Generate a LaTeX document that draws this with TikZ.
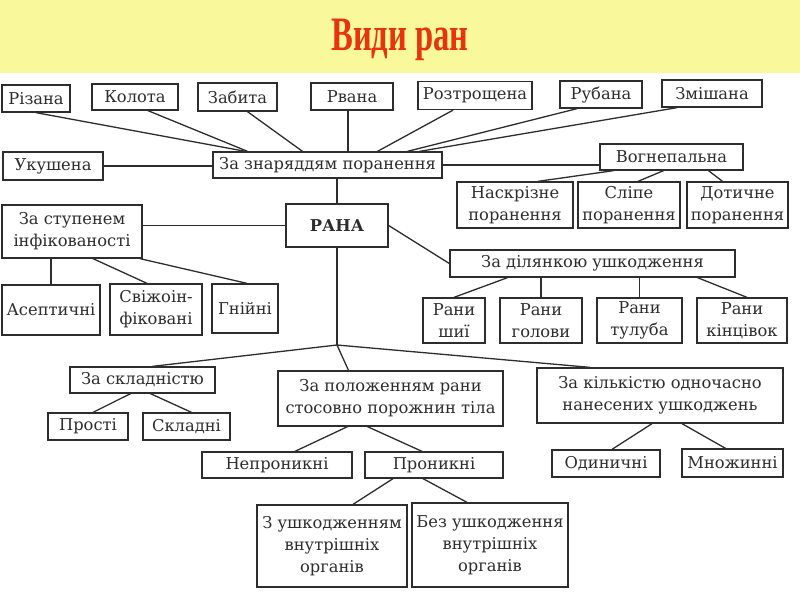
\documentclass[tikz,border=0pt]{standalone}
\usepackage{fontspec}
\setmainfont{DejaVu Serif}
\newfontfamily\headfont{Liberation Serif}
\usetikzlibrary{calc, positioning}
\definecolor{titlebar}{RGB}{249,249,155}
\definecolor{titlered}{RGB}{232,52,12}
\definecolor{inkgray}{RGB}{45,45,45}

\begin{document}
\begin{tikzpicture}[x=1pt, y=-1pt,
  box/.style 2 args={draw=inkgray, line width=1.3pt, inner sep=0pt, align=center,
    minimum width=#1, minimum height=#2, text=inkgray, font=\fontsize{16.3}{22}\selectfont},
  link/.style={draw=inkgray, line width=1.3pt}]
\useasboundingbox (0,0) rectangle (800,600);
\fill[white] (0,0) rectangle (800,600);
\fill[titlebar] (0,0) rectangle (800,73);

\node[anchor=base, text=titlered, font=\headfont\bfseries\fontsize{48}{50}\selectfont] (title) at (400,50) {\scalebox{0.68}[1]{Види ран}};

\node[box={68}{27}] (rizana) at (36,98.5) {Різана};
\node[box={86}{26}] (kolota) at (135,97) {Колота};
\node[box={79}{28}] (zabyta) at (237.5,97) {Забита};
\node[box={82}{27}] (rvana) at (352,96.5) {Рвана};
\node[box={114}{28}] (roztr) at (475,95.5) {Розтрощена};
\node[box={82}{27}] (rubana) at (601,94.5) {Рубана};
\node[box={100}{27}] (zmish) at (712,93.5) {Змішана};

\node[box={100}{28}] (ukush) at (53,166) {Укушена};
\node[box={229}{26}] (zn) at (327.5,165) {За знаряддям поранення};
\node[box={143}{26}] (vogn) at (671.5,157) {Вогнепальна};
\node[box={116}{46}] (naskr) at (515,205) {Наскрізне\\поранення};
\node[box={102}{46}] (slipe) at (629,205) {Сліпе\\поранення};
\node[box={101}{46}] (dotych) at (737.5,205) {Дотичне\\поранення};

\node[box={102}{43}, font=\fontsize{16.3}{22}\selectfont\bfseries] (rana) at (337,225.5) {РАНА};
\node[box={140}{53}] (infek) at (72,231.5) {За ступенем\\інфікованості};
\node[box={98}{50}] (asept) at (51,310) {Асептичні};
\node[box={92}{51}] (svizh) at (156,309.5) {Свіжоін-\\фіковані};
\node[box={66}{49}] (gniy) at (245,308.5) {Гнійні};

\node[box={285}{27}] (dilyan) at (592.5,263.5) {За ділянкою ушкодження};
\node[box={62}{45}] (shyi) at (454,320.5) {Рани\\шиї};
\node[box={82}{45}] (golovy) at (541,320.5) {Рани\\голови};
\node[box={85}{45}] (tuluba) at (639.5,320.5) {Рани\\тулуба};
\node[box={90}{45}] (kintsiv) at (742,320.5) {Рани\\кінцівок};

\coordinate (j) at (337,345);

\node[box={145}{26}] (skladn) at (142.5,380) {За складністю};
\node[box={80}{27}] (prosti) at (88,426.5) {Прості};
\node[box={87}{27}] (skladni) at (186.5,426.5) {Складні};

\node[box={225}{55}] (polozh) at (390.5,398.5) {За положенням рани\\стосовно порожнин тіла};
\node[box={150}{26}] (nepron) at (277,465) {Непроникні};
\node[box={138}{26}] (pron) at (434,465) {Проникні};
\node[box={150}{82}] (zushk) at (332,546) {З ушкодженням\\внутрішніх\\органів};
\node[box={156}{84}] (bezushk) at (490,545) {Без ушкодження\\внутрішніх\\органів};

\node[box={246}{55}] (kilk) at (660,395.5) {За кількістю одночасно\\нанесених ушкоджень};
\node[box={108}{27}] (odyn) at (606,463.5) {Одиничні};
\node[box={101}{28}] (mnozh) at (732.5,463) {Множинні};

\draw[link] (rizana.south) -- ([xshift=-82]zn.north);
\draw[link] ([xshift=13]kolota.south) -- ([xshift=-80]zn.north);
\draw[link] ([xshift=10]zabyta.south) -- ([xshift=-25]zn.north);
\draw[link] ([xshift=-4]rvana.south) -- ([xshift=-4]rvana.south |- zn.north);
\draw[link] ([xshift=-22]roztr.south) -- ([xshift=50]zn.north);
\draw[link] ([xshift=-24]rubana.south) -- ([xshift=80]zn.north);
\draw[link] ([xshift=-35]zmish.south) -- ([xshift=92]zn.north);
\draw[link] (ukush.east) -- (ukush.east -| zn.west);
\draw[link] (zn.east) -- (zn.east -| vogn.west);
\draw[link] ([xshift=-58]vogn.south) -- ([xshift=23]naskr.north);
\draw[link] ([xshift=-8]vogn.south) -- ([xshift=9]slipe.north);
\draw[link] ([xshift=37]vogn.south) -- ([xshift=-15]dotych.north);

\draw[link] (rana.north |- zn.south) -- (rana.north);
\draw[link] (infek.east |- rana.west) -- (rana.west);
\draw[link] (asept.north |- infek.south) -- (asept.north);
\draw[link] ([xshift=21]infek.south) -- ([xshift=-9]svizh.north);
\draw[link] ([xshift=68]infek.south) -- ([xshift=2]gniy.north);

\draw[link] (rana.east) -- (dilyan.west);
\draw[link] ([xshift=-85]dilyan.south) -- (shyi.north);
\draw[link] (golovy.north |- dilyan.south) -- (golovy.north);
\draw[link] (tuluba.north |- dilyan.south) -- (tuluba.north);
\draw[link] ([xshift=105]dilyan.south) -- ([xshift=5]kintsiv.north);

\draw[link] (rana.south) -- (j);
\draw[link] (j) -- ([xshift=10]skladn.north);
\draw[link] (j) -- ([xshift=-42]polozh.north);
\draw[link] (j) -- ([xshift=-70]kilk.north);

\draw[link] ([xshift=-12]skladn.south) -- ([xshift=5]prosti.north);
\draw[link] ([xshift=8]skladn.south) -- ([xshift=5]skladni.north);
\draw[link] ([xshift=-43]polozh.south) -- ([xshift=18]nepron.north);
\draw[link] ([xshift=-23]polozh.south) -- ([xshift=-12]pron.north);
\draw[link] ([xshift=-41]pron.south) -- ([xshift=21]zushk.north);
\draw[link] ([xshift=-11]pron.south) -- ([xshift=-23]bezushk.north);
\draw[link] ([xshift=-8]kilk.south) -- ([xshift=6]odyn.north);
\draw[link] ([xshift=22]kilk.south) -- ([xshift=-7]mnozh.north);
\end{tikzpicture}
\end{document}
